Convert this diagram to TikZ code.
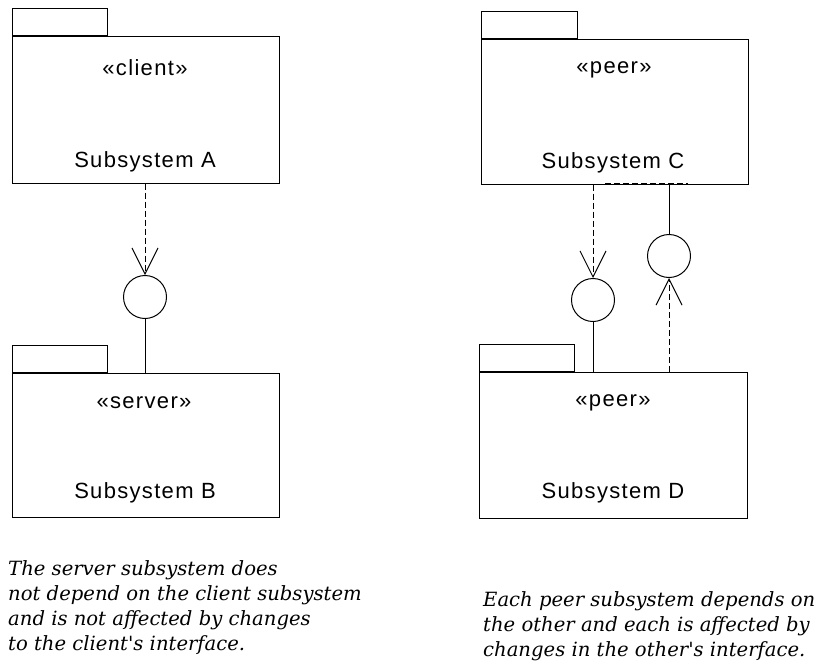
\documentclass[tikz,border=0pt]{standalone}
\usepackage{fontspec}
\usetikzlibrary{arrows.meta}
\newfontfamily\labelfont{Liberation Sans}[LetterSpace=6]
\newfontfamily\notefont{DejaVu Serif}
\tikzset{
  pkgbody/.style={draw, line width=1pt, rectangle, inner sep=0pt},
  pkgtab/.style={draw, line width=1pt, rectangle, inner sep=0pt, minimum width=95pt, minimum height=27pt},
  lbl/.style={font=\labelfont\fontsize{22}{26}\selectfont, inner sep=0pt},
  iface/.style={draw, line width=1pt, circle, minimum size=43pt, inner sep=0pt},
  dep/.style={line width=1pt, dash pattern=on 6pt off 3pt},
  real/.style={line width=1pt},
  barb/.style={-{Straight Barb[length=26pt,width=26pt,line width=1pt]}},
  note/.style={font=\notefont\itshape\fontsize{19.6}{25}\selectfont, align=left, inner sep=0pt, anchor=north west}
}
\begin{document}
\begin{tikzpicture}[x=1pt,y=-1pt]
\useasboundingbox (0,0) rectangle (824,664);
% Package A
\node[pkgbody, minimum width=267pt, minimum height=147pt] (A) at (145.5,109.5) {};
\node[pkgtab] (At) at (59.5,21.5) {};
\node[lbl] (Ast) at (145,68) {«client»};
\node[lbl] (Anm) at (145,162) {Subsystem A};
% Package B
\node[pkgbody, minimum width=267pt, minimum height=144pt] (B) at (145.5,445) {};
\node[pkgtab] (Bt) at (59.5,358.5) {};
\node[lbl] (Bst) at (144,403) {«server»};
\node[lbl] (Bnm) at (145,493) {Subsystem B};
% Package C
\node[pkgbody, minimum width=267pt, minimum height=145pt] (C) at (614.5,111.5) {};
\node[pkgtab, minimum width=96pt] (Ct) at (529,24.5) {};
\node[lbl] (Cst) at (614,70) {«peer»};
\node[lbl] (Cnm) at (613,163) {Subsystem C};
% Package D
\node[pkgbody, minimum width=268pt, minimum height=146pt] (D) at (613,445) {};
\node[pkgtab] (Dt) at (526.5,357.5) {};
\node[lbl] (Dst) at (613,403) {«peer»};
\node[lbl] (Dnm) at (613,493) {Subsystem D};
% Interfaces
\node[iface] (IA) at (145,297) {};
\node[iface] (IC1) at (593,300) {};
\node[iface] (IC2) at (669,256) {};
% left dependency
\draw[dep, barb] (IA |- A.south) -- (IA.north);
\draw[real] (IA.south) -- (IA |- B.north);
% right
\draw[dep, barb] (IC1 |- C.south) -- (IC1.north);
\draw[real] (IC1.south) -- (IC1 |- D.north);
\draw[real] (IC2 |- C.south) -- (IC2.north);
\draw[dep, barb] (IC2 |- D.north) -- (IC2.south);
\coordinate (c1) at ([yshift=1pt]C.south -| 605,0);
\coordinate (c2) at ([yshift=1pt]C.south -| 688,0);
\draw[dep] (c1) -- (c2);
\coordinate (d1) at ([yshift=-1pt]D.north -| 603,0);
\coordinate (d2) at ([yshift=-1pt]D.north -| 685,0);
\draw[dep] (d1) -- (d2);
% notes
\node[note] (N1) at (8,560) {The server subsystem does\\not depend on the client subsystem\\and is not affected by changes\\to the client's interface.};
\node[note] (N2) at (483,591) {Each peer subsystem depends on\\the other and each is affected by\\changes in the other's interface.};
\end{tikzpicture}
\end{document}
